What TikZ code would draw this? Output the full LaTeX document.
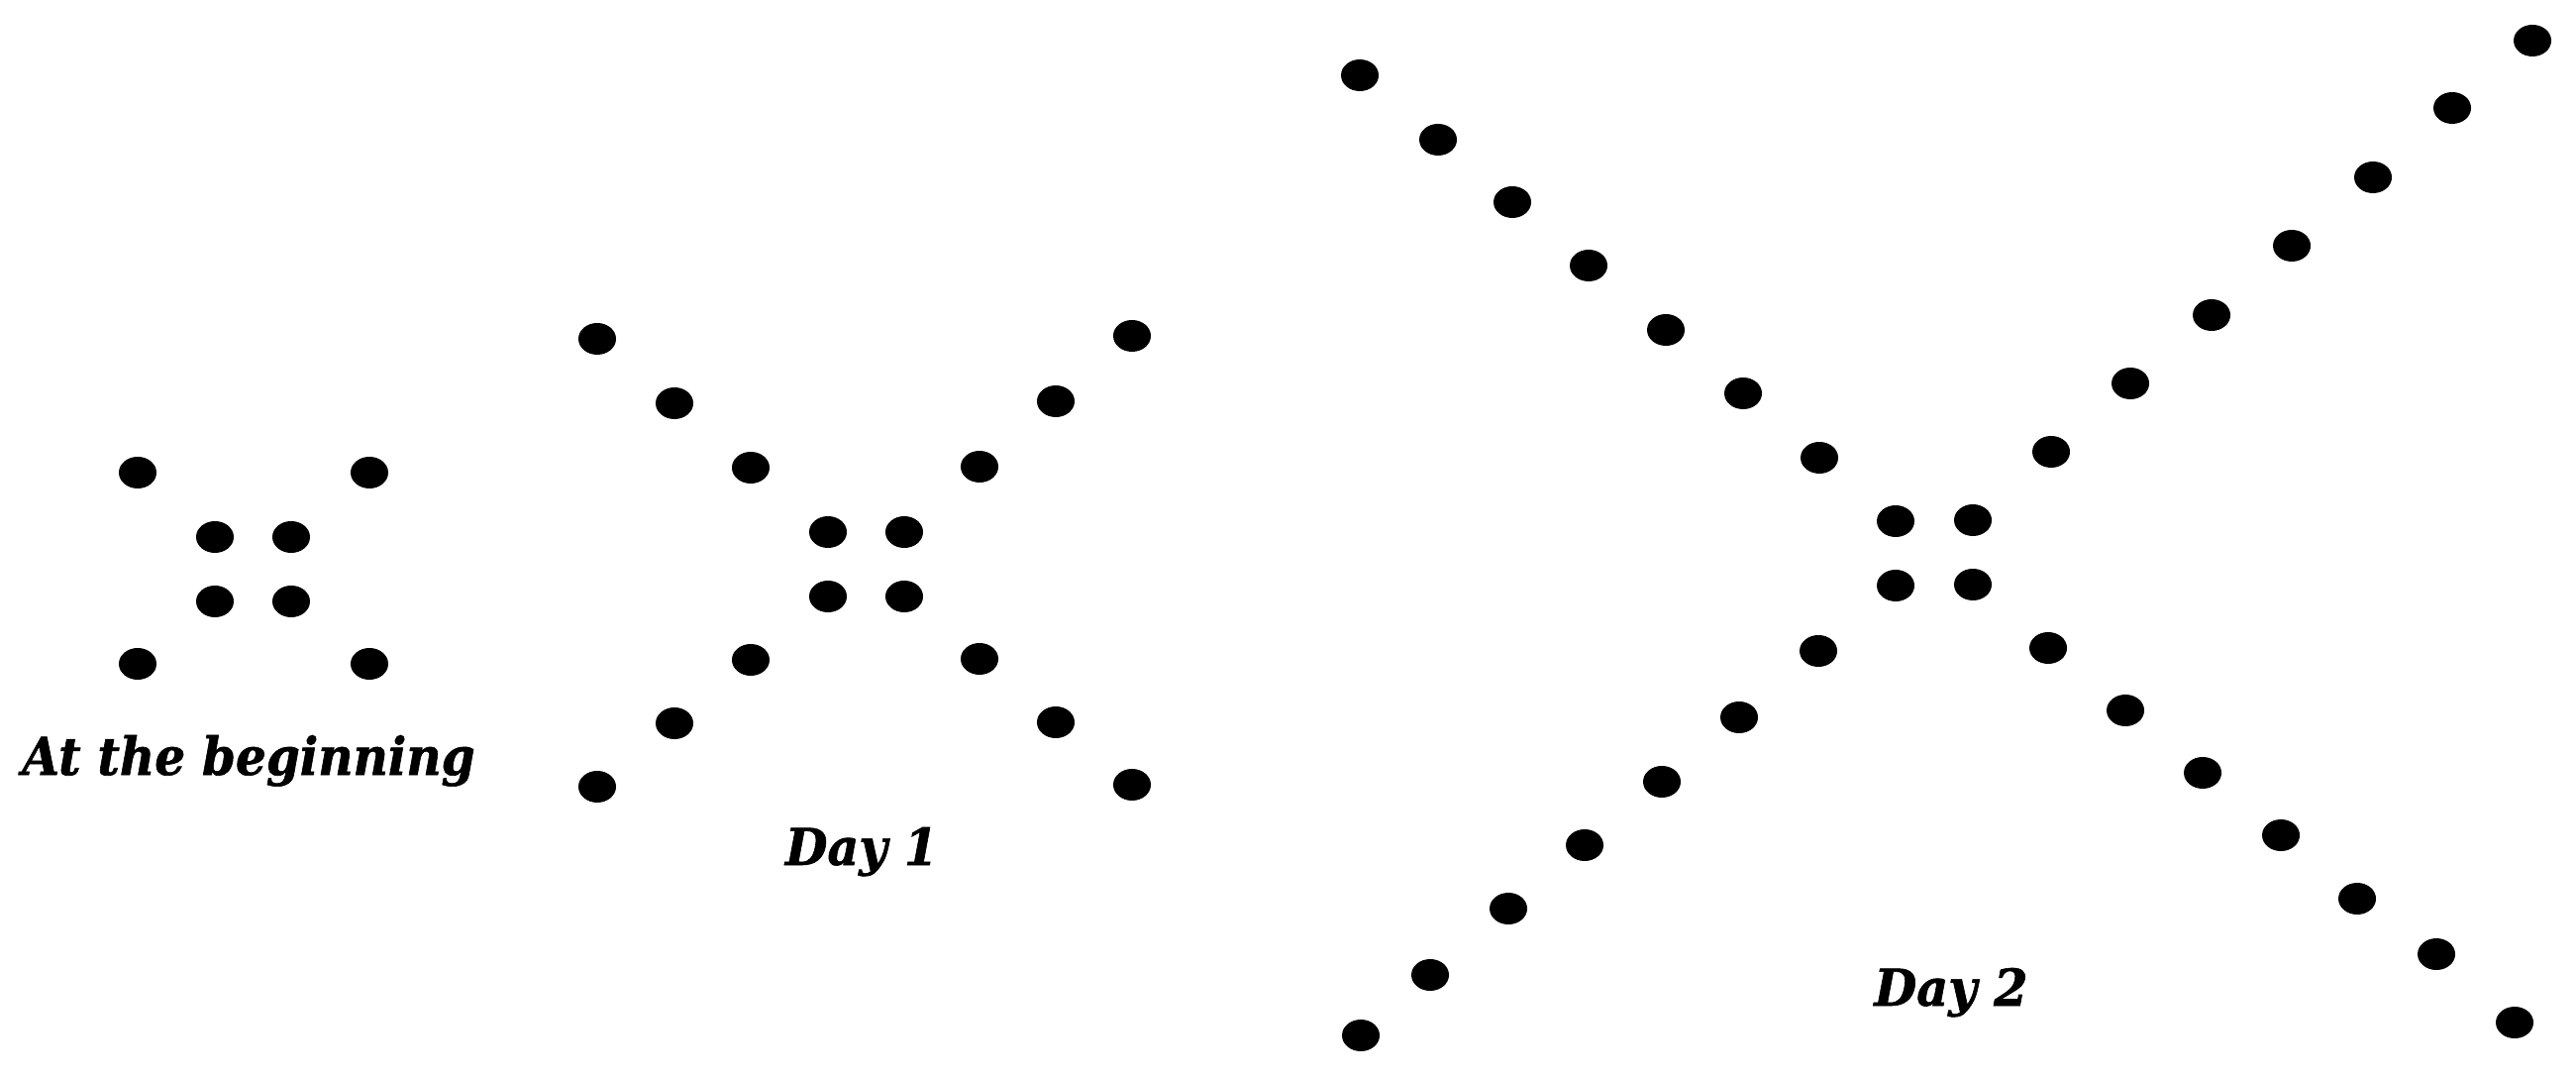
\documentclass[tikz,border=0pt]{standalone}
\usepackage{fontspec}
\usepackage{graphicx}
\newfontfamily\lblfont{DejaVu Serif}[BoldItalicFeatures={FakeBold=1.2}]
\usetikzlibrary{shapes.geometric}
\tikzset{
  dot/.style={ellipse, fill=black, draw=none, inner sep=0pt, minimum width=0.38cm, minimum height=0.32cm},
  lbl/.style={inner sep=0pt, anchor=base, font=\lblfont\bfseries\itshape}
}
\begin{document}
\begin{tikzpicture}[x=0.01cm, y=-0.01cm]
\useasboundingbox (0,0) rectangle (2601,1089);
% At the beginning
\foreach \px/\py [count=\i] in {139/477,373/477,139/670,373/670,217/542,294/542,217/607,294/607}
  \node[dot] (a\i) at (\px,\py) {};
% Day 1
\foreach \px/\py [count=\i] in {603/342,681/407,758/472,836/537,913/537,836/602,913/602,989/471,1066/405,1143/339,758/666,681/730,603/794,989/665,1066/729,1143/792}
  \node[dot] (b\i) at (\px,\py) {};
% Day 2
\foreach \px/\py [count=\i] in {1373/76,1452/141,1527/204,1604/268,1682/333,1760/397,1837/462,
  1914/526,1992/525,1914/591,1992/590,
  2071/456,2151/387,2233/318,2314/248,2396/179,2476/109,2557/41,
  1836/657,1756/724,1678/789,1600/853,1523/917,1444/984,1374/1045,
  2068/654,2146/717,2224/780,2303/843,2380/907,2460/963,2539/1032}
  \node[dot] (c\i) at (\px,\py) {};
\node[lbl] (t1) at (251,782) {\resizebox{4.57cm}{0.40cm}{At the beginning}};
\node[lbl] (t2) at (870,873) {\resizebox{1.54cm}{0.38cm}{Day 1}};
\node[lbl] (t3) at (1970,1015) {\resizebox{1.55cm}{0.38cm}{Day 2}};
\end{tikzpicture}
\end{document}
